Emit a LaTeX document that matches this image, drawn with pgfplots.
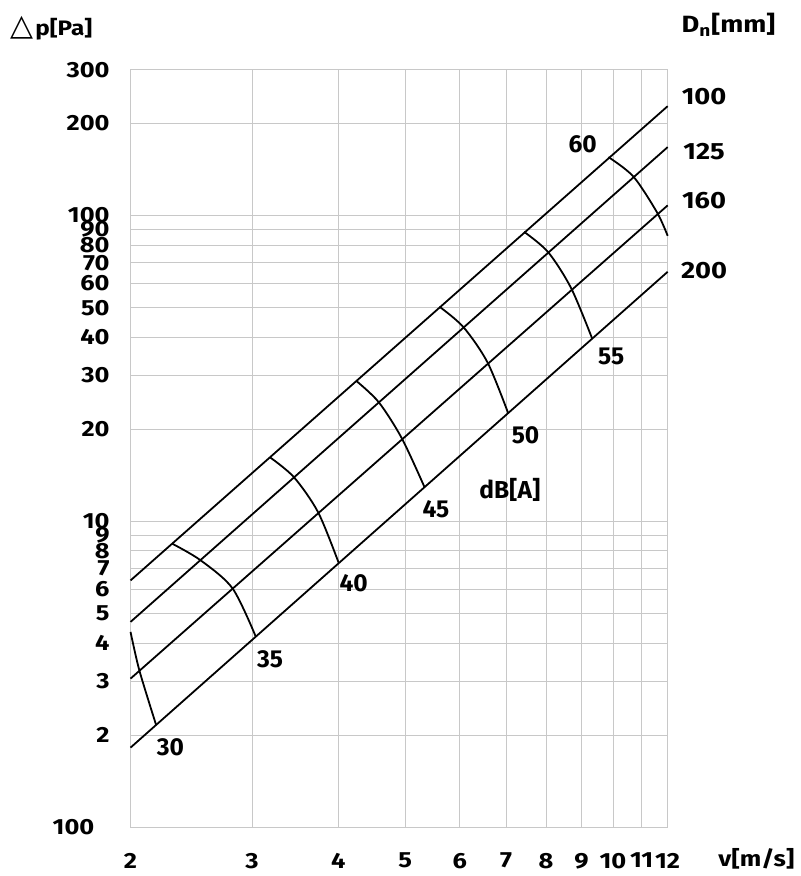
\documentclass[border=0pt]{standalone}
\usepackage{pgfplots}
\pgfplotsset{compat=1.18}
\usepackage{fontspec}
\setmainfont{Fira Sans}
\newfontfamily\wfont{Fira Sans}[FakeStretch=1.16]
\newfontfamily\symfont{DejaVu Sans}
\definecolor{gridgray}{RGB}{200,200,200}
\newcommand{\lblfont}{\fontsize{12.3}{14}\selectfont\bfseries}
\newcommand{\tkfont}{\wfont\fontsize{11}{12}\selectfont\bfseries}
\newcommand{\rtfont}{\wfont\fontsize{11.8}{13}\selectfont\bfseries}
\begin{document}
\begin{tikzpicture}
\begin{loglogaxis}[
  scale only axis, width=269.5pt, height=380pt,
  xmin=2, xmax=12, ymin=1, ymax=300,
  xtick={2,3,4,5,6,7,8,9,10,11,12},
  xticklabels={2,3,4,5,6,7,8,9,10,11,12},
  ytick={1,2,3,4,5,6,7,8,9,10,20,30,40,50,60,70,80,90,100,200,300},
  yticklabels={,2,3,4,5,6,7,8,9,10,20,30,40,50,60,70,80,90,100,200,300},
  grid=major, major grid style={gridgray, line width=0.5pt},
  axis line style={gridgray, line width=0.5pt},
  major tick length=0pt, minor tick num=0,
  /pgf/number format/assume math mode=true,
  tick label style={font=\tkfont, black},
  xticklabel style={yshift=-9.5pt},
  yticklabel style={xshift=-7pt},
  clip=false,
]
% duct diameter lines
\addplot[black, line width=0.9pt] coordinates {(2,6.41) (12,228)};
\addplot[black, line width=0.9pt] coordinates {(2,4.69) (12,167.5)};
\addplot[black, line width=0.9pt] coordinates {(2,3.06) (12,108)};
\addplot[black, line width=0.9pt] coordinates {(2,1.82) (12,65.5)};
% dB(A) curves
\addplot[black, line width=0.9pt, smooth] coordinates {(2,4.35) (2.06,3.25) (2.178,2.158)};
\addplot[black, line width=0.9pt, smooth] coordinates {(2.297,8.457) (2.524,7.47) (2.81,6.04) (3.037,4.197)};
\addplot[black, line width=0.9pt, smooth] coordinates {(3.182,16.22) (3.449,13.95) (3.740,10.70) (4.006,7.30)};
\addplot[black, line width=0.9pt, smooth] coordinates {(4.243,28.85) (4.576,24.55) (4.943,18.70) (5.332,12.94)};
\addplot[black, line width=0.9pt, smooth] coordinates {(5.605,50.35) (6.070,43.2) (6.580,33.1) (7.049,22.6)};
\addplot[black, line width=0.9pt, smooth] coordinates {(7.433,88.5) (8.052,76.0) (8.697,57.9) (9.329,39.6)};
\addplot[black, line width=0.9pt, smooth] coordinates {(9.848,155.4) (10.70,134.3) (11.58,102.5) (12,85.9)};
% dB labels
\node[font=\lblfont] at (axis cs:9.04,171.8) {60};
\node[font=\lblfont] at (axis cs:9.94,34.6) {55};
\node[font=\lblfont] at (axis cs:7.47,19.1) {50};
\node[font=\lblfont] at (axis cs:5.54,10.93) {45};
\node[font=\lblfont] at (axis cs:4.21,6.30) {40};
\node[font=\lblfont] at (axis cs:3.185,3.54) {35};
\node[font=\lblfont] at (axis cs:2.284,1.824) {30};
\node[font=\lblfont] at (axis cs:7.09,12.70) {dB[A]};
% right labels
\node[font=\rtfont] at ([shift={(287.75pt,366.65pt)}]rel axis cs:0,0) {100};
\node[font=\rtfont] at ([shift={(287.75pt,339.15pt)}]rel axis cs:0,0) {125};
\node[font=\rtfont] at ([shift={(287.75pt,314.15pt)}]rel axis cs:0,0) {160};
\node[font=\rtfont] at ([shift={(287.75pt,279.15pt)}]rel axis cs:0,0) {200};
\node[font=\rtfont] at ([shift={(300pt,402.5pt)}]rel axis cs:0,0) {D\textsubscript{n}[mm]};
\node[font=\wfont\fontsize{10.5}{12}\selectfont\bfseries, anchor=west, inner sep=0pt] at ([shift={(-60.5pt,401pt)}]rel axis cs:0,0) {{\symfont\mdseries\fontsize{15}{15}\selectfont △}\kern1pt p[Pa]};
\node[font=\tkfont, anchor=east, inner sep=0pt] at ([shift={(-18pt,0pt)}]rel axis cs:0,0) {100};
\node[font=\tkfont] at ([shift={(314pt,-16pt)}]rel axis cs:0,0) {v[m/s]};
% picture bounds
\path ([shift={(-65.5pt,-23pt)}]rel axis cs:0,0) ([shift={(66.5pt,35pt)}]rel axis cs:1,1);
\end{loglogaxis}
\end{tikzpicture}
\end{document}
